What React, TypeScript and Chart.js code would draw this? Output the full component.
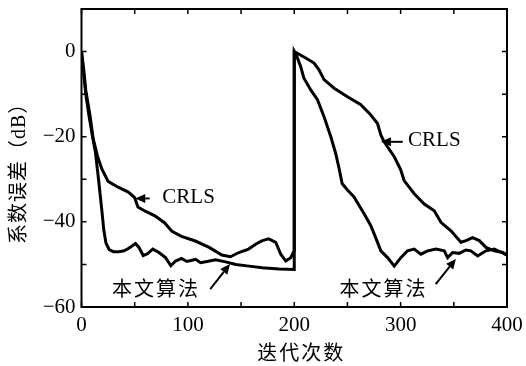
import React, { useEffect, useRef } from 'react';
import { Chart, registerables } from 'chart.js';

Chart.register(...registerables);

// 本文算法 (proposed algorithm)
const propX = [0, 2, 4, 7, 10, 13, 16, 19, 21, 23, 26, 30, 35, 40, 44.5, 50.8, 54, 58, 62, 67, 72.8, 79, 84, 88.5, 94, 99, 104, 107.3, 112, 118, 126, 135.5, 145, 157.5, 170, 185.7, 200,
  200, 203, 206, 209, 215.5, 221.8, 228, 234.4, 239, 242.2, 245, 250, 256, 265.4, 272, 277, 281.4, 287.7, 294, 300.2, 306.5, 312.8, 319, 325.4, 333.2, 341, 344.2, 348.9, 355, 361.4, 366, 372.4, 380.2, 388, 395, 400];
const propY = [0, -5, -10, -15, -19.5, -23.5, -30, -37, -42, -45, -46.5, -47, -47, -46.8, -46.2, -45.1, -46, -47.9, -47.5, -46.4, -47.2, -48.4, -50.3, -49.2, -48.6, -49.3, -49, -48.8, -49.6, -49.3, -48.9, -49.4, -50, -50.4, -50.8, -51.1, -51.2,
  0, -1.5, -3.5, -6.2, -9, -11.3, -15.3, -20, -24, -27.5, -31, -32.5, -34.1, -38, -40.9, -44, -46.8, -48.4, -50.4, -48.4, -46.8, -46.4, -47.6, -46.8, -46.4, -46.8, -48.4, -47.2, -47.4, -46.6, -46.8, -48, -46.8, -46.4, -47.2, -47.8];

// CRLS
const crlsX = [0, 2, 4, 8, 11, 15, 19, 25, 34, 44, 50, 53, 60, 69, 78, 85, 94, 107, 120, 132, 140, 148, 157, 164, 170, 176, 182.6, 187.3, 192, 196.7, 200,
  200, 210.8, 218.6, 223.3, 228, 237.5, 250, 262.6, 272, 278.3, 281.4, 284.5, 294, 300, 303.3, 312.8, 322.2, 331.6, 337.9, 347.3, 356.7, 361.4, 367.7, 374, 380.2, 388, 396, 400];
const crlsY = [0, -4, -9, -15, -20.5, -24.5, -27.5, -30.5, -31.8, -33, -34.3, -36.5, -37.5, -38.6, -40.2, -42.2, -43.4, -44.5, -46, -47.8, -48.2, -47.2, -46.4, -45.2, -44.4, -44, -44.8, -47.6, -49.2, -48.4, -46.8,
  0, -1.5, -2.7, -4.3, -6.6, -8.6, -10.6, -12.5, -14.9, -16.9, -19.6, -21.2, -24.7, -27.7, -30.3, -33.4, -35.8, -37.4, -40.1, -42.1, -44.8, -44.4, -43.7, -44.4, -46, -46.8, -47.2, -47.8];

const xLabelValues = [0, 100, 200, 300, 400];
const yLabelValues = [0, -20, -40, -60];
const xTitle = '迭代次数';
const yTitle = '系数误差（dB）';

// annotations (data coordinates)
const annText = ['CRLS', 'CRLS', '本文算法', '本文算法'];
const annX = [76, 307, 69, 283];
const annY = [-34.3, -20.8, -56.3, -56.3];
const arrowFromX = [64, 302, 121, 333];
const arrowFromY = [-34.5, -21.2, -55.8, -54.6];
const arrowToX = [50.5, 281.5, 139.6, 352];
const arrowToY = [-34.5, -21.2, -49.9, -48.7];

const SERIF = "'Liberation Serif', 'Noto Sans CJK SC', serif";

const decorPlugin = {
  id: 'decor',
  afterDraw(chart: any) {
    const { ctx, chartArea, scales } = chart;
    const xs = scales.x;
    const ys = scales.y;
    ctx.save();
    ctx.strokeStyle = '#000';
    ctx.fillStyle = '#000';
    // frame
    ctx.lineWidth = 2;
    ctx.strokeRect(chartArea.left, chartArea.top, chartArea.right - chartArea.left, chartArea.bottom - chartArea.top);
    // inward ticks
    ctx.lineWidth = 1.5;
    const tl = 5;
    for (let v = 0; v <= 400; v += 50) {
      const px = xs.getPixelForValue(v);
      ctx.beginPath();
      ctx.moveTo(px, chartArea.bottom); ctx.lineTo(px, chartArea.bottom - tl);
      ctx.moveTo(px, chartArea.top); ctx.lineTo(px, chartArea.top + tl);
      ctx.stroke();
    }
    for (let v = -60; v <= 10; v += 10) {
      const py = ys.getPixelForValue(v);
      ctx.beginPath();
      ctx.moveTo(chartArea.left, py); ctx.lineTo(chartArea.left + tl, py);
      ctx.moveTo(chartArea.right, py); ctx.lineTo(chartArea.right - tl, py);
      ctx.stroke();
    }
    // annotations
    ctx.textBaseline = 'middle';
    for (let i = 0; i < annText.length; i++) {
      const isCJK = /[^\x00-\x7f]/.test(annText[i]);
      ctx.font = isCJK ? `20px ${SERIF}` : `21px ${SERIF}`;
      ctx.textAlign = isCJK ? 'center' : 'left';
      const tx = xs.getPixelForValue(annX[i]);
      const ty = ys.getPixelForValue(annY[i]);
      if (isCJK) {
        const chars = annText[i].split('');
        const pitch = 22;
        const start = tx - (pitch * (chars.length - 1)) / 2;
        chars.forEach((c, k) => ctx.fillText(c, start + k * pitch, ty));
      } else {
        ctx.fillText(annText[i], tx, ty);
      }
      const x1 = xs.getPixelForValue(arrowFromX[i]);
      const y1 = ys.getPixelForValue(arrowFromY[i]);
      const x2 = xs.getPixelForValue(arrowToX[i]);
      const y2 = ys.getPixelForValue(arrowToY[i]);
      const ang = Math.atan2(y2 - y1, x2 - x1);
      const hl = 10, hw = 4.5;
      const bx = x2 - hl * Math.cos(ang);
      const by = y2 - hl * Math.sin(ang);
      ctx.lineWidth = 2;
      ctx.beginPath();
      ctx.moveTo(x1, y1); ctx.lineTo(bx, by);
      ctx.stroke();
      ctx.beginPath();
      ctx.moveTo(x2, y2);
      ctx.lineTo(bx + hw * Math.sin(ang), by - hw * Math.cos(ang));
      ctx.lineTo(bx - hw * Math.sin(ang), by + hw * Math.cos(ang));
      ctx.closePath();
      ctx.fill();
    }
    // axis titles
    ctx.font = `20px ${SERIF}`;
    ctx.textAlign = 'center';
    ctx.textBaseline = 'middle';
    {
      const chars = xTitle.split('');
      const pitch = 22;
      const cx = (chartArea.left + chartArea.right) / 2 + 6;
      const start = cx - (pitch * (chars.length - 1)) / 2;
      chars.forEach((c, k) => ctx.fillText(c, start + k * pitch, 355));
    }
    ctx.translate(20, 244);
    ctx.rotate(-Math.PI / 2);
    ctx.textAlign = 'left';
    try { (ctx as any).letterSpacing = '1px'; } catch (e) { /* ignore */ }
    ctx.fillText(yTitle, 0, 0);
    ctx.restore();
  },
};

export default function App() {
  const ref = useRef<HTMLCanvasElement>(null);
  useEffect(() => {
    if (!ref.current) return;
    const chart = new Chart(ref.current, {
      type: 'line',
      data: {
        datasets: [
          {
            label: '本文算法',
            data: propX.map((x, i) => ({ x, y: propY[i] })),
            borderColor: '#000',
            borderWidth: 3,
            pointRadius: 0,
            tension: 0,
            fill: false,
          },
          {
            label: 'CRLS',
            data: crlsX.map((x, i) => ({ x, y: crlsY[i] })),
            borderColor: '#000',
            borderWidth: 3,
            pointRadius: 0,
            tension: 0,
            fill: false,
          },
        ],
      },
      options: {
        animation: false,
        responsive: false,
        layout: { autoPadding: false, padding: { left: 0, top: 9, right: 19, bottom: 0 } },
        plugins: { legend: { display: false }, tooltip: { enabled: false } },
        scales: {
          x: {
            type: 'linear',
            min: 0,
            max: 400,
            grid: { display: false, drawTicks: false },
            border: { display: false },
            afterFit: (axis: any) => {
              axis.height = 59;
              axis.paddingLeft = 0; axis.paddingRight = 0; axis.paddingTop = 0; axis.paddingBottom = 0;
            },
            ticks: {
              stepSize: 50,
              padding: 6,
              color: '#000',
              maxRotation: 0,
              font: { family: SERIF, size: 21 },
              callback: (v: any) => (xLabelValues.includes(Number(v)) ? String(v) : ''),
            },
          },
          y: {
            type: 'linear',
            min: -60,
            max: 10,
            grid: { display: false, drawTicks: false },
            border: { display: false },
            afterFit: (axis: any) => {
              axis.width = 81.5;
              axis.paddingLeft = 0; axis.paddingRight = 0; axis.paddingTop = 0; axis.paddingBottom = 0;
            },
            ticks: {
              stepSize: 10,
              padding: 6,
              color: '#000',
              font: { family: SERIF, size: 21 },
              callback: (v: any) => (yLabelValues.includes(Number(v)) ? String(v).replace('-', '\u2212') : ''),
            },
          },
        },
      },
      plugins: [decorPlugin],
    });
    return () => chart.destroy();
  }, []);
  return (
    <canvas
      ref={ref}
      width={526}
      height={366}
      style={{ position: 'absolute', left: 0, top: 0, display: 'block', background: '#fff' }}
    />
  );
}
